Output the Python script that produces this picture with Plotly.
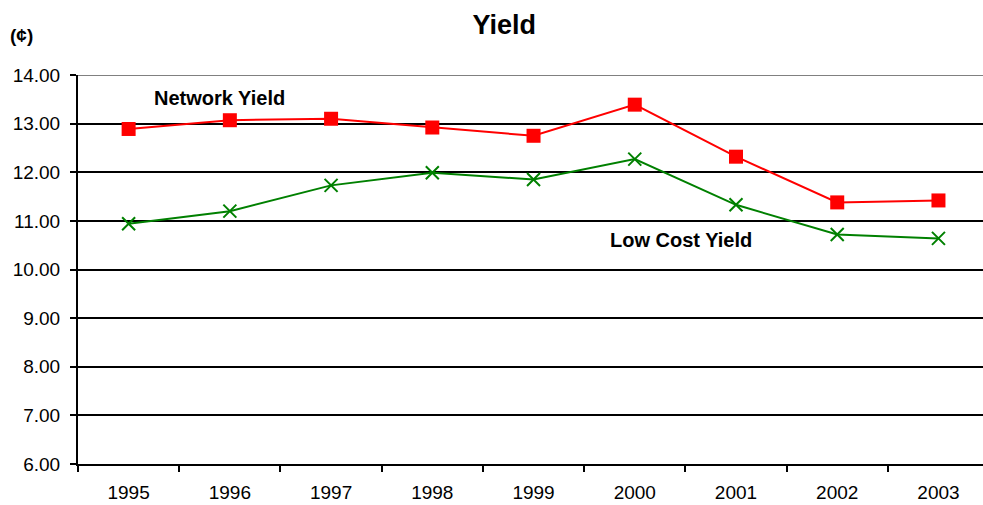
import plotly.graph_objects as go

years = ["1995", "1996", "1997", "1998", "1999", "2000", "2001", "2002", "2003"]
network_yield = [12.89, 13.07, 13.10, 12.92, 12.75, 13.39, 12.32, 11.38, 11.42]
low_cost_yield = [10.94, 11.20, 11.73, 11.99, 11.85, 12.27, 11.33, 10.72, 10.64]
y_ticks = [6, 7, 8, 9, 10, 11, 12, 13, 14]

FONT = "Liberation Sans, Arial, sans-serif"

fig = go.Figure()
fig.add_trace(go.Scatter(
    x=years, y=network_yield, mode="lines+markers", name="Network Yield",
    line=dict(color="#ff0000", width=2),
    marker=dict(symbol="square", size=14, color="#ff0000"),
))
fig.add_trace(go.Scatter(
    x=years, y=low_cost_yield, mode="lines+markers", name="Low Cost Yield",
    line=dict(color="#008000", width=2),
    marker=dict(symbol="x-thin-open", size=13, color="#008000",
                line=dict(color="#008000", width=2)),
))

# top border of the plot area in grey
fig.add_shape(type="line", xref="paper", yref="y", x0=0, x1=1, y0=14, y1=14,
              line=dict(color="#808080", width=2), layer="above")

fig.add_annotation(text="<b>Network Yield</b>", x=0.9, y=13.53, xref="x", yref="y",
                   showarrow=False, font=dict(family=FONT, size=20, color="black"))
fig.add_annotation(text="<b>Low Cost Yield</b>", x=5.46, y=10.6, xref="x", yref="y",
                   showarrow=False, font=dict(family=FONT, size=20, color="black"))
fig.add_annotation(text="<b>(¢)</b>", x=(21.5 - 78) / 905, y=(464 - 35) / 389,
                   xref="paper", yref="paper", xanchor="center", yanchor="middle",
                   showarrow=False, font=dict(family=FONT, size=19, color="black"))

fig.update_layout(
    width=983, height=505,
    margin=dict(l=78, r=0, t=75, b=41),
    paper_bgcolor="white", plot_bgcolor="white",
    showlegend=False,
    title=dict(text="<b>Yield</b>", x=0.513, xanchor="center", y=1 - 25 / 505,
               yanchor="middle", font=dict(family=FONT, size=27, color="black")),
    font=dict(family=FONT, size=19, color="black"),
)
fig.update_xaxes(
    type="category", range=[-0.5, 8.44], tickson="boundaries",
    ticks="outside", ticklen=6, tickwidth=2, tickcolor="black",
    showline=True, linecolor="black", linewidth=2, showgrid=False,
    ticklabelstandoff=10,
    tickfont=dict(family=FONT, size=19, color="black"),
)
fig.update_yaxes(
    range=[6, 14], tickvals=y_ticks, ticktext=[f"{v:.2f}" for v in y_ticks],
    ticks="outside", ticklen=6, tickwidth=2, tickcolor="black",
    showline=True, linecolor="black", linewidth=2,
    showgrid=True, gridcolor="black", gridwidth=2, zeroline=False,
    ticklabelstandoff=6,
    tickfont=dict(family=FONT, size=19, color="black"),
)

fig.write_html("out.html")
